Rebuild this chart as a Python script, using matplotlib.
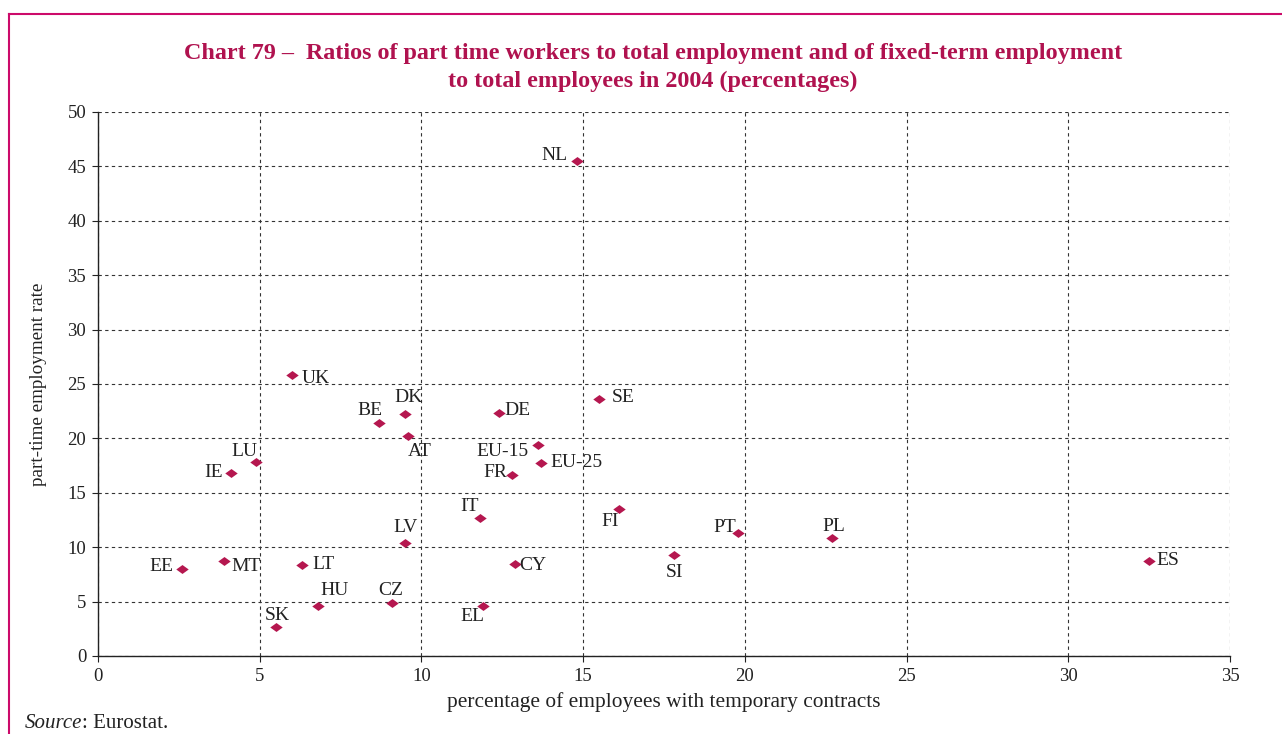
import matplotlib
matplotlib.use("Agg")
import matplotlib.pyplot as plt
from matplotlib.lines import Line2D

# ---- data ----
countries = ["NL", "UK", "DK", "BE", "AT", "DE", "SE", "EU-15", "EU-25", "FR",
             "LU", "IE", "IT", "FI", "LV", "PT", "PL", "SI", "ES", "CY",
             "EL", "EE", "MT", "LT", "HU", "CZ", "SK"]
temporary = [14.8, 6.0, 9.5, 8.7, 9.6, 12.4, 15.5, 13.6, 13.7, 12.8,
             4.9, 4.1, 11.8, 16.1, 9.5, 19.8, 22.7, 17.8, 32.5, 12.9,
             11.9, 2.6, 3.9, 6.3, 6.8, 9.1, 5.5]
part_time = [45.5, 25.8, 22.2, 21.4, 20.2, 22.3, 23.6, 19.4, 17.7, 16.6,
             17.8, 16.8, 12.7, 13.5, 10.4, 11.3, 10.8, 9.3, 8.7, 8.5,
             4.6, 8.0, 8.7, 8.4, 4.6, 4.9, 2.7]
x_ticks = [0, 5, 10, 15, 20, 25, 30, 35]
y_ticks = [0, 5, 10, 15, 20, 25, 30, 35, 40, 45, 50]

# label offsets in pixels (text centre relative to marker), y up
label_offsets_px = {
    "NL": (-22, 5), "UK": (24, -3), "DK": (3, 17), "BE": (-9, 13),
    "AT": (11, -15), "DE": (18, 3), "SE": (24, 2), "EU-15": (-35, -7),
    "EU-25": (35, 1), "FR": (-17, 3), "LU": (-12, 11), "IE": (-17, 1),
    "IT": (-10, 11), "FI": (-9, -12), "LV": (0, 15), "PT": (-14, 6),
    "PL": (2, 12), "SI": (1, -18), "ES": (19, 1), "CY": (18, -2),
    "EL": (-10, -11), "EE": (-21, 2), "MT": (22, -5), "LT": (22, 0),
    "HU": (17, 15), "CZ": (-2, 12), "SK": (1, 11),
}

SERIF = ["Liberation Serif", "DejaVu Serif"]
plt.rcParams["font.family"] = SERIF
TITLE_C = "#B0124F"
BORDER_C = "#CC0A6A"
MARK_C = "#B5174F"
TXT_C = "#222222"

W, H = 1282, 734
fig = plt.figure(figsize=(W / 100, H / 100), dpi=100)
ax = fig.add_axes([98 / W, 1 - 656 / H, (1230 - 98) / W, (656 - 112) / H])

diamond = [(-1, 0), (0, 0.72), (1, 0), (0, -0.72), (-1, 0)]
ax.scatter(temporary, part_time, marker=diamond, s=80, color=MARK_C,
           linewidths=0, zorder=3, clip_on=False)

for name, xv, yv in zip(countries, temporary, part_time):
    dx, dy = label_offsets_px[name]
    ax.annotate(name, (xv, yv), xytext=(dx * 0.72, dy * 0.72),
                textcoords="offset points", ha="center", va="center",
                fontsize=14, color=TXT_C, zorder=4)

ax.set_xlim(0, 35)
ax.set_ylim(0, 50)
ax.set_xticks(x_ticks)
ax.set_yticks(y_ticks)
ax.tick_params(axis="both", direction="out", length=4.5, width=0.8,
               labelsize=13.5, colors=TXT_C, pad=4)
ax.grid(True, color="#333333", linestyle=(0, (3, 3)), linewidth=0.8)
ax.set_axisbelow(True)
for s in ("top", "right"):
    ax.spines[s].set_visible(False)
for s in ("left", "bottom"):
    ax.spines[s].set_color(TXT_C)
    ax.spines[s].set_linewidth(1.0)

ax.set_xlabel("percentage of employees with temporary contracts",
              fontsize=15.4, color=TXT_C, labelpad=5)
ax.set_ylabel("part-time employment rate", fontsize=13.8, color=TXT_C,
              labelpad=15)

fig.text(653 / W, 1 - 54 / H,
         "Chart 79 \u2013  Ratios of part time workers to total employment and of fixed-term employment",
         ha="center", va="center", fontsize=17.4, fontweight="bold", color=TITLE_C)
fig.text(653 / W, 1 - 81 / H, "to total employees in 2004 (percentages)",
         ha="center", va="center", fontsize=17.4, fontweight="bold", color=TITLE_C)

src = fig.text(25 / W, 1 - 728 / H, "Source", fontsize=15, style="italic",
               color=TXT_C, ha="left", va="baseline")
ax.annotate(": Eurostat.", xy=(1, 0), xycoords=src, xytext=(0, 0),
            textcoords="offset points", ha="left", va="bottom",
            fontsize=15, color=TXT_C, annotation_clip=False)

# magenta frame lines
fig.add_artist(Line2D([9 / W, 9 / W], [0, 1 - 14 / H], transform=fig.transFigure,
                      color=BORDER_C, linewidth=1.5))
fig.add_artist(Line2D([9 / W, 1], [1 - 14 / H, 1 - 14 / H], transform=fig.transFigure,
                      color=BORDER_C, linewidth=1.5))

fig.savefig("out.png", dpi=100)
